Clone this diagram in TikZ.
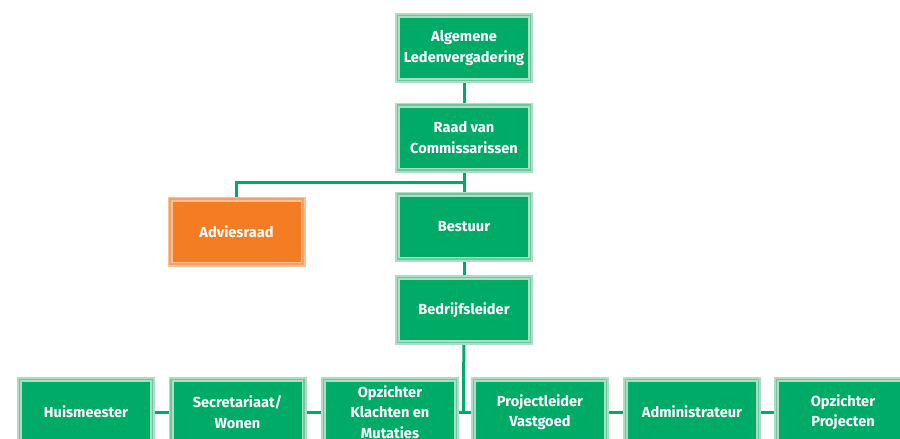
\documentclass[tikz,border=0pt]{standalone}
\usepackage{fontspec}
\setmainfont{Fira Sans}
\definecolor{grn}{RGB}{0,170,103}
\definecolor{grnglow}{RGB}{172,222,198}
\definecolor{grnedge}{RGB}{110,200,158}
\definecolor{org}{RGB}{244,124,34}
\definecolor{orgglow}{RGB}{250,192,152}
\definecolor{orgedge}{RGB}{246,160,100}
\tikzset{
  box/.style={rectangle, fill=grn, draw=grnglow, line width=5pt,
    minimum width=133pt, minimum height=65pt, inner sep=0pt,
    text=white, align=center, font=\fontsize{14.6}{20.5}\selectfont\bfseries,
    postaction={draw=grnedge, line width=1.2pt}},
  obox/.style={box, fill=org, draw=orgglow, postaction={draw=orgedge, line width=1.2pt}},
  conn/.style={draw=grn, line width=3pt}
}
\begin{document}
\begin{tikzpicture}[x=1pt,y=-1pt]
\useasboundingbox (0,0) rectangle (900,439);
\node[box] (alv) at (464,48) {Algemene\\Ledenvergadering};
\node[box] (rvc) at (464,137.5) {Raad van\\Commissarissen};
\node[obox] (adv) at (236.5,231.5) {Adviesraad};
\node[box] (bes) at (464,226.5) {Bestuur};
\node[box] (bed) at (464,310) {Bedrijfsleider};
\node[box] (hm) at (86,412) {Huismeester};
\node[box] (sec) at (237.5,412) {Secretariaat/\\Wonen};
\node[box] (ok) at (390,412) {Opzichter\\Klachten en\\Mutaties};
\node[box] (pl) at (540,412) {Projectleider\\Vastgoed};
\node[box] (adm) at (692,412) {Administrateur};
\node[box] (op) at (843,412) {Opzichter\\Projecten};
\coordinate (j) at (463.5,182);
\coordinate (k) at (463.5,412);
\path[conn] (alv) -- (rvc);
\path[conn] (rvc) -- (bes);
\path[conn] (j) -| (adv);
\path[conn] (bes) -- (bed);
\path[conn] (bed) -- (k);
\path[conn] (hm) -- (sec);
\path[conn] (sec) -- (ok);
\path[conn] (ok) -- (pl);
\path[conn] (pl) -- (adm);
\path[conn] (adm) -- (op);
\end{tikzpicture}
\end{document}
